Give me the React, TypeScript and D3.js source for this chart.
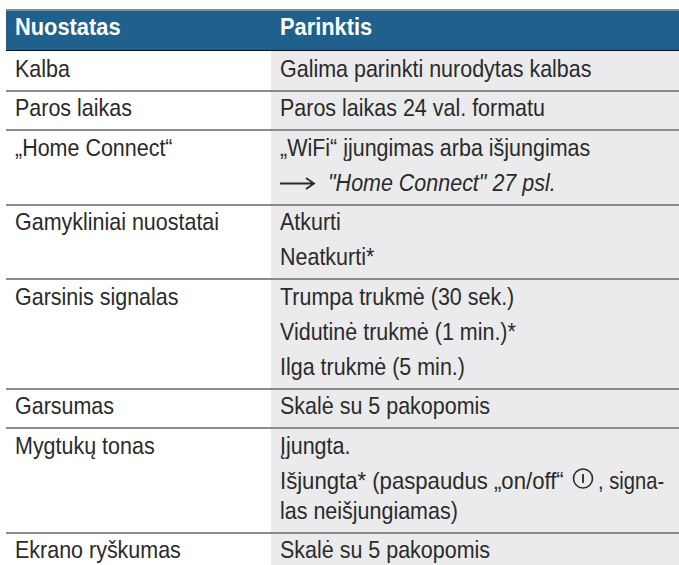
import React from "react";
import * as d3 from "d3";

const headers = ["Nuostatas", "Parinktis"];
const settings = [
  "Kalba",
  "Paros laikas",
  "„Home Connect“",
  "Gamykliniai nuostatai",
  "Garsinis signalas",
  "Garsumas",
  "Mygtukų tonas",
  "Ekrano ryškumas",
];
const options = [
  ["Galima parinkti nurodytas kalbas"],
  ["Paros laikas 24 val. formatu"],
  ["„WiFi“ įjungimas arba išjungimas", "→\"Home Connect\" 27 psl."],
  ["Atkurti", "Neatkurti*"],
  ["Trumpa trukmė (30 sek.)", "Vidutinė trukmė (1 min.)*", "Ilga trukmė (5 min.)"],
  ["Skalė su 5 pakopomis"],
  ["Įjungta.", "Išjungta* (paspaudus „on/off“ @, signa-", "las neišjungiamas)"],
  ["Skalė su 5 pakopomis"],
];
const wrapped = ["las neišjungiamas)"]; // continuation of the line above, tighter leading

const width = 679, height = 565;
const font = "'Liberation Sans', sans-serif";
const ink = "#2a2a2a";
const squeeze = 0.895;

const lineGap = (line: string) => (wrapped.includes(line) ? 30 : 35);
const baselines = (lines: string[]) => [0, ...d3.cumsum(lines.slice(1), lineGap)];

const Label = ({ x, y, sx = squeeze, children, ...rest }: any) => (
  <text transform={`translate(${x},${y}) scale(${sx},1)`} fontSize={24} fill={ink} {...rest}>
    {children}
  </text>
);

const OptionLine = ({ x, y, line }: { x: number; y: number; line: string }) => {
  if (line.startsWith("→")) {
    // long arrow in front of the cross reference
    const path = d3.path();
    path.moveTo(x, y - 7);
    path.lineTo(x + 34, y - 7);
    path.moveTo(x + 26, y - 12.5);
    path.lineTo(x + 34, y - 7);
    path.lineTo(x + 26, y - 1.5);
    return (
      <g>
        <path d={path.toString()} fill="none" stroke={ink} strokeWidth={1.8} />
        <Label x={x + 48} y={y} fontStyle="italic">{line.slice(1)}</Label>
      </g>
    );
  }
  if (line.includes("@")) {
    // power button symbol sits inline in the text
    const [before, after] = line.split("@");
    return (
      <g>
        <Label x={x} y={y} sx={0.922}>{before}</Label>
        <circle cx={x + 303} cy={y - 10} r={9.5} fill="none" stroke={ink} strokeWidth={1.6} />
        <line x1={x + 303} x2={x + 303} y1={y - 14.5} y2={y - 5.5} stroke={ink} strokeWidth={1.8} />
        <Label x={x + 318} y={y} sx={0.84}>{after}</Label>
      </g>
    );
  }
  return <Label x={x} y={y}>{line}</Label>;
};

export default function App() {
  const x = d3.scaleOrdinal<number, number>().domain([0, 1]).range([15, 280]);
  const rowHeights = options.map((o) => 25.5 + d3.sum(o.slice(1), lineGap) + 14);
  const tops = [51, ...d3.cumsum(rowHeights).map((h) => 51 + h)];

  return (
    <svg width={width} height={height} style={{ position: "absolute", left: 0, top: 0, fontFamily: font }}>
      <rect x={6} y={9} width={673} height={2} fill="#8a8a8a" />
      <rect x={6} y={11} width={673} height={39} fill="#20608c" />
      <rect x={6} y={50} width={673} height={1} fill="#111" />
      {headers.map((h, i) => (
        <Label key={h} x={x(i)} y={35} sx={0.91} fontWeight="bold" fill="#fff">{h}</Label>
      ))}
      <rect x={271} y={51} width={408} height={514} fill="#ebebed" />
      {settings.map((s, i) => {
        const ys = baselines(options[i]);
        return (
          <g key={s}>
            {i > 0 && <rect x={6} y={Math.round(tops[i]) - 1} width={673} height={2} fill="#8c8c8c" />}
            <Label x={x(0)} y={tops[i] + 25.5}>{s}</Label>
            {options[i].map((line, j) => (
              <OptionLine key={j} x={x(1)} y={tops[i] + 25.5 + ys[j]} line={line} />
            ))}
          </g>
        );
      })}
    </svg>
  );
}
